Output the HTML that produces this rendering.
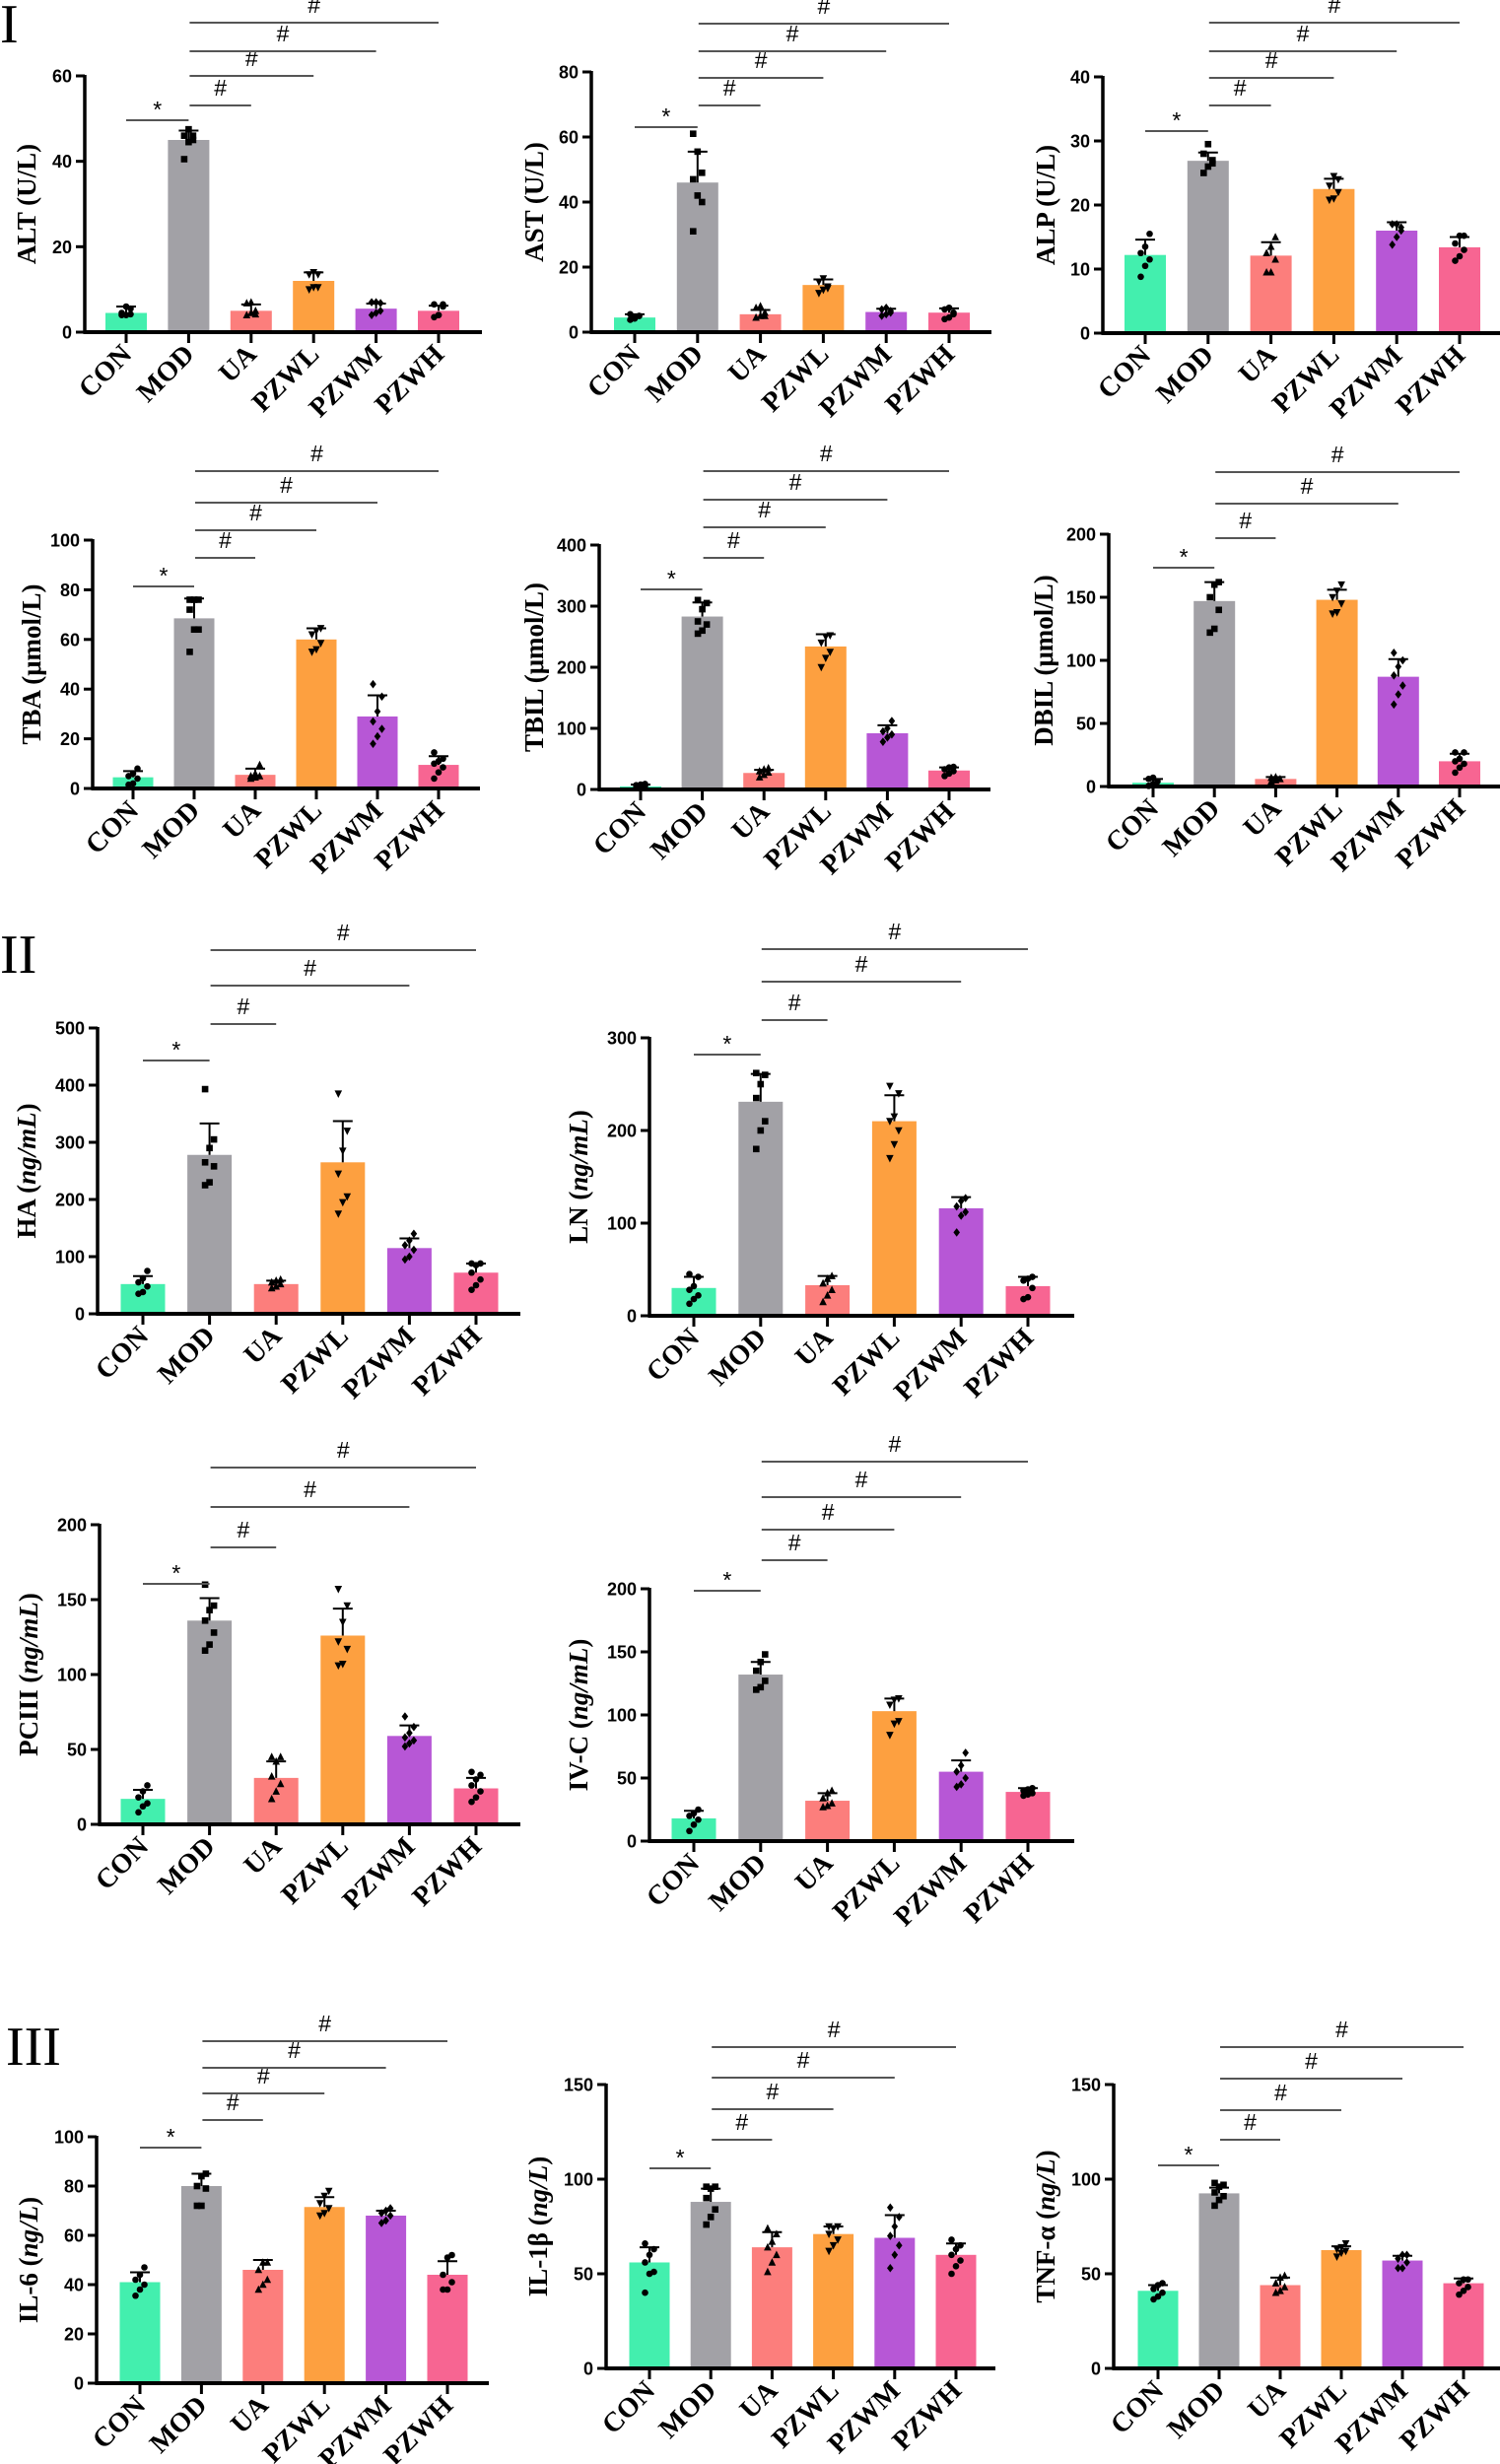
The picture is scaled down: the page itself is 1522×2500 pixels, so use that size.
<!DOCTYPE html>
<html><head><meta charset="utf-8">
<style>
html,body{margin:0;padding:0;background:#fff;}
svg{display:block;}
.tick{font-family:"Liberation Sans",sans-serif;font-weight:bold;font-size:18px;fill:#000;}
.xl{font-family:"Liberation Serif",serif;font-weight:bold;font-size:28px;fill:#000;}
.yt{font-family:"Liberation Serif",serif;font-weight:bold;font-size:27px;fill:#000;}
.sig{font-family:"Liberation Sans",sans-serif;font-size:23px;fill:#000;}
.pl{font-family:"Liberation Serif",serif;font-size:56px;fill:#000;}
</style></head>
<body>
<svg id="fig" width="1522" height="2500" viewBox="0 0 1522 2500" xmlns="http://www.w3.org/2000/svg">
<text class="pl" x="0" y="43">I</text>
<text class="pl" x="0" y="987">II</text>
<text class="pl" x="6" y="2095">III</text>
</svg>
<script>
const GROUPS = ["CON","MOD","UA","PZWL","PZWM","PZWH"];
const COLORS = ["#43EFAE","#A2A1A6","#FC7E7C","#FDA040","#B757D6","#F76592"];
const SHAPES = ["circle","square","tri","dtri","diamond","circle"];

const ALT_TICKS=[0,20,40,60];
const ALT_MEAN=[4.5,45,5,12,5.5,5];
const ALT_SD=[1.5,2.2,1.5,2,1.2,1.2];
const ALT_PTS=[[4,4,4.2,4.5,6,5.5],[40.5,44.5,46,46,47.5,45],[4,4.5,5,6.8,7,4.2],[10,10.5,10.5,13.5,14,13.5],[4,4.5,5,7,7,6.8],[3.5,4,6.5,6.5,4,6]];

const AST_TICKS=[0,20,40,60,80];
const AST_MEAN=[4.5,46,5.5,14.5,6.2,6];
const AST_SD=[1,9.5,1.3,1.7,1,1.3];
const AST_PTS=[[3.8,4.2,5,5.5,4.5,5],[61,55.5,49,47,42,40,31],[4.5,5,6,7.5,8,5],[12,13,14,15.5,16.5,13.5],[5,5.5,6.5,7,7.5,6],[4,4.5,6,7,7.5,5.5]];

const ALP_TICKS=[0,10,20,30,40];
const ALP_MEAN=[12.2,26.9,12.1,22.5,16,13.4];
const ALP_SD=[2.4,1.3,2.1,1.6,1.3,1.6];
const ALP_PTS=[[8.8,10.5,11.5,12.5,13.5,15.5],[25,26,27,28,29.5,26.5],[9.5,9.5,11.5,12.5,13.5,15],[20.8,21,22,23,24.5,24],[13.8,15,16,17,17,16.5],[11.3,12,13,14,15.2,15.2]];

const TBA_TICKS=[0,20,40,60,80,100];
const TBA_MEAN=[4.5,68.5,5.5,60,29,9.5];
const TBA_SD=[2.5,8,2.5,4.5,8.5,3.5];
const TBA_PTS=[[1.5,2,4,5,6,8],[55,64,64,72,76,76,76],[4,4.5,5,5,6,9.5],[55,56,58.5,62,63.5,64.5],[18,21,24,27,31,37,42],[4,6.5,8.5,10,11,12,14.5]];

const TBIL_TICKS=[0,100,200,300,400];
const TBIL_MEAN=[5,283,27,234,92,31];
const TBIL_SD=[3,23,5,20,13,5];
const TBIL_PTS=[[2,4,6,7,8,9],[255,260,270,275,295,305,310],[20,24,28,30,33,35],[200,215,225,240,250,252],[78,85,90,95,100,112],[22,26,30,33,36,37]];

const DBIL_TICKS=[0,50,100,150,200];
const DBIL_MEAN=[3,147,6,148,87,20];
const DBIL_SD=[3,15,1.5,8,14,6];
const DBIL_PTS=[[0.5,2,4,6,7],[122,125,140,150,160,162],[4,5,6,7,7.5],[137,138,145,150,155,160],[65,73,80,88,95,100,106],[11,15,18,20,22,27,27]];

const HA_TICKS=[0,100,200,300,400,500];
const HA_MEAN=[52,278,52,265,115,72];
const HA_SD=[14,55,6,72,17,16];
const HA_PTS=[[35,38,48,55,62,75],[225,230,258,265,290,305,393],[45,48,52,55,58,60],[175,195,205,245,285,320,385],[95,100,112,120,128,140],[42,50,60,72,85,88,88]];

const LN_TICKS=[0,100,200,300];
const LN_MEAN=[30,231,33,210,116,32];
const LN_SD=[12,30,10,28,12,10];
const LN_PTS=[[13,18,22,28,32,42,45],[180,200,210,235,250,260,262],[15,22,28,35,40,43],[170,185,200,210,215,240,248],[90,108,112,118,124,127],[18,20,30,38,40,42]];

const PC_TICKS=[0,50,100,150,200];
const PC_MEAN=[17,136,31,126,59,24];
const PC_SD=[6,15,11,18,7,7];
const PC_PTS=[[8,12,14,18,22,26],[116,120,128,136,143,146,160],[17,22,27,32,42,45,45],[106,107,117,122,135,146,157],[52,54,56,58,61,65,72],[15,18,22,26,30,33,35]];

const IVC_TICKS=[0,50,100,150,200];
const IVC_MEAN=[18,132,32,103,55,39];
const IVC_SD=[6,10,6,10,9,3];
const IVC_PTS=[[8,13,17,20,22,25],[120,122,127,135,142,148],[27,28,30,34,38,40],[84,93,95,108,112,113],[43,45,50,55,60,70],[36,37,38,40,41,42]];

const IL6_TICKS=[0,20,40,60,80,100];
const IL6_MEAN=[41,80,46,71.5,68,44];
const IL6_SD=[4,5,4,4,2,5.5];
const IL6_PTS=[[35.5,38,40,42,44,47],[72,72,79,80,84,85],[38,40,42,46,49,49],[68,69,71,73,76,78],[65,66,68,69,70,71],[38,38,41,44,51,52]];

const IL1_TICKS=[0,50,100,150];
const IL1_MEAN=[56,88,64,71,69,60];
const IL1_SD=[8,7,8,4,12,6];
const IL1_PTS=[[40,50,51,56,60,63,66],[76,80,84,90,95,96,96],[51,56,60,64,67,71,74],[62,65,68,71,74,75,75],[53,60,65,70,75,80,85],[50,54,57,60,63,65,68]];

const TNF_TICKS=[0,50,100,150];
const TNF_MEAN=[41,92.5,44,62.5,57,45];
const TNF_SD=[3,3,4,2,2.5,2.5];
const TNF_PTS=[[36.5,38,40,42,44,45],[86,89,91,93,96,97,98],[40,41,43,45,48,49],[59,61,62,63,64,66],[53,53,56,58,60,60],[39,41,43,45,47,47]];

const PANELS=[
 {id:"alt",t:"ALT",u:"(U/L)",it:false,ticks:ALT_TICKS,mean:ALT_MEAN,sd:ALT_SD,pts:ALT_PTS,ax:86,y0:337,yTop:77,c0:128,sp:63.4,bw:42,xEnd:489,tOff:59,
  sig:[[122,0,1,"*"],[107,1,2,"#"],[77,1,3,"#"],[52,1,4,"#"],[23,1,5,"#"]]},
 {id:"ast",t:"AST",u:"(U/L)",it:false,ticks:AST_TICKS,mean:AST_MEAN,sd:AST_SD,pts:AST_PTS,ax:600,y0:337,yTop:73,c0:644,sp:63.8,bw:42,xEnd:1006,tOff:58,
  sig:[[129,0,1,"*"],[107,1,2,"#"],[79,1,3,"#"],[52,1,4,"#"],[24,1,5,"#"]]},
 {id:"alp",t:"ALP",u:"(U/L)",it:false,ticks:ALP_TICKS,mean:ALP_MEAN,sd:ALP_SD,pts:ALP_PTS,ax:1119,y0:338,yTop:78,c0:1162,sp:63.8,bw:42,xEnd:1525,tOff:58,
  sig:[[133,0,1,"*"],[107,1,2,"#"],[79,1,3,"#"],[52,1,4,"#"],[23,1,5,"#"]]},
 {id:"tba",t:"TBA",u:"(μmol/L)",it:false,ticks:TBA_TICKS,mean:TBA_MEAN,sd:TBA_SD,pts:TBA_PTS,ax:94,y0:800,yTop:548,c0:135,sp:62,bw:41,xEnd:487,tOff:62,
  sig:[[595,0,1,"*"],[566,1,2,"#"],[538,1,3,"#"],[510,1,4,"#"],[478,1,5,"#"]]},
 {id:"tbil",t:"TBIL",u:"(μmol/L)",it:false,ticks:TBIL_TICKS,mean:TBIL_MEAN,sd:TBIL_SD,pts:TBIL_PTS,ax:608,y0:801,yTop:553,c0:650,sp:62.6,bw:42,xEnd:1005,tOff:66,
  sig:[[598,0,1,"*"],[566,1,2,"#"],[535,1,3,"#"],[507,1,4,"#"],[478,1,5,"#"]]},
 {id:"dbil",t:"DBIL",u:"(μmol/L)",it:false,ticks:DBIL_TICKS,mean:DBIL_MEAN,sd:DBIL_SD,pts:DBIL_PTS,ax:1125,y0:798,yTop:542,c0:1170,sp:62.2,bw:42,xEnd:1525,tOff:66,
  sig:[[576,0,1,"*"],[546,1,2,"#"],[511,1,4,"#"],[479,1,5,"#"]]},
 {id:"ha",t:"HA",u:"ng/mL",it:true,ticks:HA_TICKS,mean:HA_MEAN,sd:HA_SD,pts:HA_PTS,ax:99,y0:1333,yTop:1043,c0:145,sp:67.6,bw:45,xEnd:528,tOff:72,
  sig:[[1076,0,1,"*"],[1039,1,2,"#"],[1000,1,4,"#"],[964,1,5,"#"]]},
 {id:"ln",t:"LN",u:"ng/mL",it:true,ticks:LN_TICKS,mean:LN_MEAN,sd:LN_SD,pts:LN_PTS,ax:659,y0:1335,yTop:1053,c0:704,sp:67.8,bw:45,xEnd:1090,tOff:72,
  sig:[[1070,0,1,"*"],[1035,1,2,"#"],[996,1,4,"#"],[963,1,5,"#"]]},
 {id:"pciii",t:"PCIII",u:"ng/mL",it:true,ticks:PC_TICKS,mean:PC_MEAN,sd:PC_SD,pts:PC_PTS,ax:101,y0:1851,yTop:1547,c0:145,sp:67.6,bw:45,xEnd:528,tOff:72,
  sig:[[1607,0,1,"*"],[1570,1,2,"#"],[1529,1,4,"#"],[1489,1,5,"#"]]},
 {id:"ivc",t:"IV-C",u:"ng/mL",it:true,ticks:IVC_TICKS,mean:IVC_MEAN,sd:IVC_SD,pts:IVC_PTS,ax:659,y0:1868,yTop:1612,c0:704,sp:67.8,bw:45,xEnd:1090,tOff:72,
  sig:[[1614,0,1,"*"],[1583,1,2,"#"],[1552,1,3,"#"],[1519,1,4,"#"],[1483,1,5,"#"]]},
 {id:"il6",t:"IL-6",u:"ng/L",it:true,ticks:IL6_TICKS,mean:IL6_MEAN,sd:IL6_SD,pts:IL6_PTS,ax:98,y0:2418,yTop:2168,c0:142,sp:62.4,bw:41,xEnd:496,tOff:69,
  sig:[[2179,0,1,"*"],[2151,1,2,"#"],[2124,1,3,"#"],[2098,1,4,"#"],[2071,1,5,"#"]]},
 {id:"il1b",t:"IL-1β",u:"ng/L",it:true,ticks:IL1_TICKS,mean:IL1_MEAN,sd:IL1_SD,pts:IL1_PTS,ax:615,y0:2403,yTop:2115,c0:659,sp:62.2,bw:41,xEnd:1010,tOff:69,
  sig:[[2200,0,1,"*"],[2171,1,2,"#"],[2140,1,3,"#"],[2108,1,4,"#"],[2077,1,5,"#"]]},
 {id:"tnf",t:"TNF-α",u:"ng/L",it:true,ticks:TNF_TICKS,mean:TNF_MEAN,sd:TNF_SD,pts:TNF_PTS,ax:1130,y0:2403,yTop:2115,c0:1175,sp:62,bw:41,xEnd:1522,tOff:69,
  sig:[[2197,0,1,"*"],[2171,1,2,"#"],[2141,1,3,"#"],[2109,1,4,"#"],[2077,1,5,"#"]]}
];

const NS="http://www.w3.org/2000/svg";
const svg=document.getElementById("fig");
function mk(tag,attrs,parent){const e=document.createElementNS(NS,tag);for(const k in attrs)e.setAttribute(k,attrs[k]);(parent||svg).appendChild(e);return e;}

PANELS.forEach(p=>{
  const g=mk("g",{});
  
  
  const ymax=p.ticks[p.ticks.length-1];
  const Y=v=>p.y0-(v/ymax)*(p.y0-p.yTop);
  const X=i=>p.c0+i*p.sp;
  p.mean.forEach((m,i)=>{
    const r=mk("rect",{x:X(i)-p.bw/2,y:Y(m),width:p.bw,height:p.y0-Y(m),fill:COLORS[i]},g);
    
    
  });
  p.mean.forEach((m,i)=>{
    const eg=mk("g",{stroke:"#000","stroke-width":2},g);
    
    
    mk("line",{x1:X(i),x2:X(i),y1:Y(m),y2:Y(m+p.sd[i])},eg);
    mk("line",{x1:X(i)-10,x2:X(i)+10,y1:Y(m+p.sd[i]),y2:Y(m+p.sd[i])},eg);
  });
  p.pts.forEach((arr,i)=>{
    arr.forEach((v,j)=>{
      const dx=(j%3-1)*4.5;
      const cx=X(i)+dx, cy=Y(v), s=3.3, sh=SHAPES[i];
      let e;
      if(sh==="circle") e=mk("circle",{cx:cx,cy:cy,r:s,fill:"#000"},g);
      else if(sh==="square") e=mk("rect",{x:cx-s,y:cy-s,width:2*s,height:2*s,fill:"#000"},g);
      else if(sh==="tri") e=mk("polygon",{points:`${cx},${cy-s-1} ${cx-s-0.5},${cy+s} ${cx+s+0.5},${cy+s}`,fill:"#000"},g);
      else if(sh==="dtri") e=mk("polygon",{points:`${cx},${cy+s+1} ${cx-s-0.5},${cy-s} ${cx+s+0.5},${cy-s}`,fill:"#000"},g);
      else e=mk("polygon",{points:`${cx},${cy-s-1} ${cx+s},${cy} ${cx},${cy+s+1} ${cx-s},${cy}`,fill:"#000"},g);
      
      
    });
  });
  const ya=mk("line",{x1:p.ax,x2:p.ax,y1:p.yTop-1,y2:p.y0+1.5,stroke:"#000","stroke-width":3.5},g);
  
  
  const xa=mk("line",{x1:p.ax-1.5,x2:p.xEnd,y1:p.y0,y2:p.y0,stroke:"#000","stroke-width":4},g);
  
  
  p.ticks.forEach(t=>{
    mk("line",{x1:p.ax-9,x2:p.ax,y1:Y(t),y2:Y(t),stroke:"#000","stroke-width":3},g);
    const tl=mk("text",{x:p.ax-13,y:Y(t)+6.5,"text-anchor":"end",class:"tick"},g);
    tl.textContent=t;
    
    
  });
  GROUPS.forEach((gname,i)=>{
    mk("line",{x1:X(i),x2:X(i),y1:p.y0,y2:p.y0+11,stroke:"#000","stroke-width":3},g);
    const tx=X(i)+7, ty=p.y0+24;
    const xl=mk("text",{x:tx,y:ty,"text-anchor":"end",class:"xl",transform:`rotate(-45 ${tx} ${ty})`},g);
    xl.textContent=gname;
    
    
  });
  const cy=(p.y0+p.yTop)/2, tx=p.ax-p.tOff;
  const yt=mk("text",{x:tx,y:cy,"text-anchor":"middle",class:"yt",transform:`rotate(-90 ${tx} ${cy})`,dy:"9"},g);
  
  
  if(p.it){
    const a=document.createElementNS(NS,"tspan");a.textContent=p.t+" (";yt.appendChild(a);
    const b=document.createElementNS(NS,"tspan");b.setAttribute("font-style","italic");b.textContent=p.u;yt.appendChild(b);
    const c=document.createElementNS(NS,"tspan");c.textContent=")";yt.appendChild(c);
  } else yt.textContent=p.t+" "+p.u;
  p.sig.forEach(s=>{
    const [y,a,b,lab]=s;
    const x1=X(a)+(lab==="*"?0:1), x2=X(b);
    const sl=mk("line",{x1:x1,x2:x2,y1:y,y2:y,stroke:"#555","stroke-width":2},g);
    
    
    const st=mk("text",{x:(x1+x2)/2,y:lab==="*"?y-3:y-10,"text-anchor":"middle",class:"sig","font-size":lab==="*"?30:23},g);
    st.textContent=lab;
    
    
  });
});
</script>
</body></html>
